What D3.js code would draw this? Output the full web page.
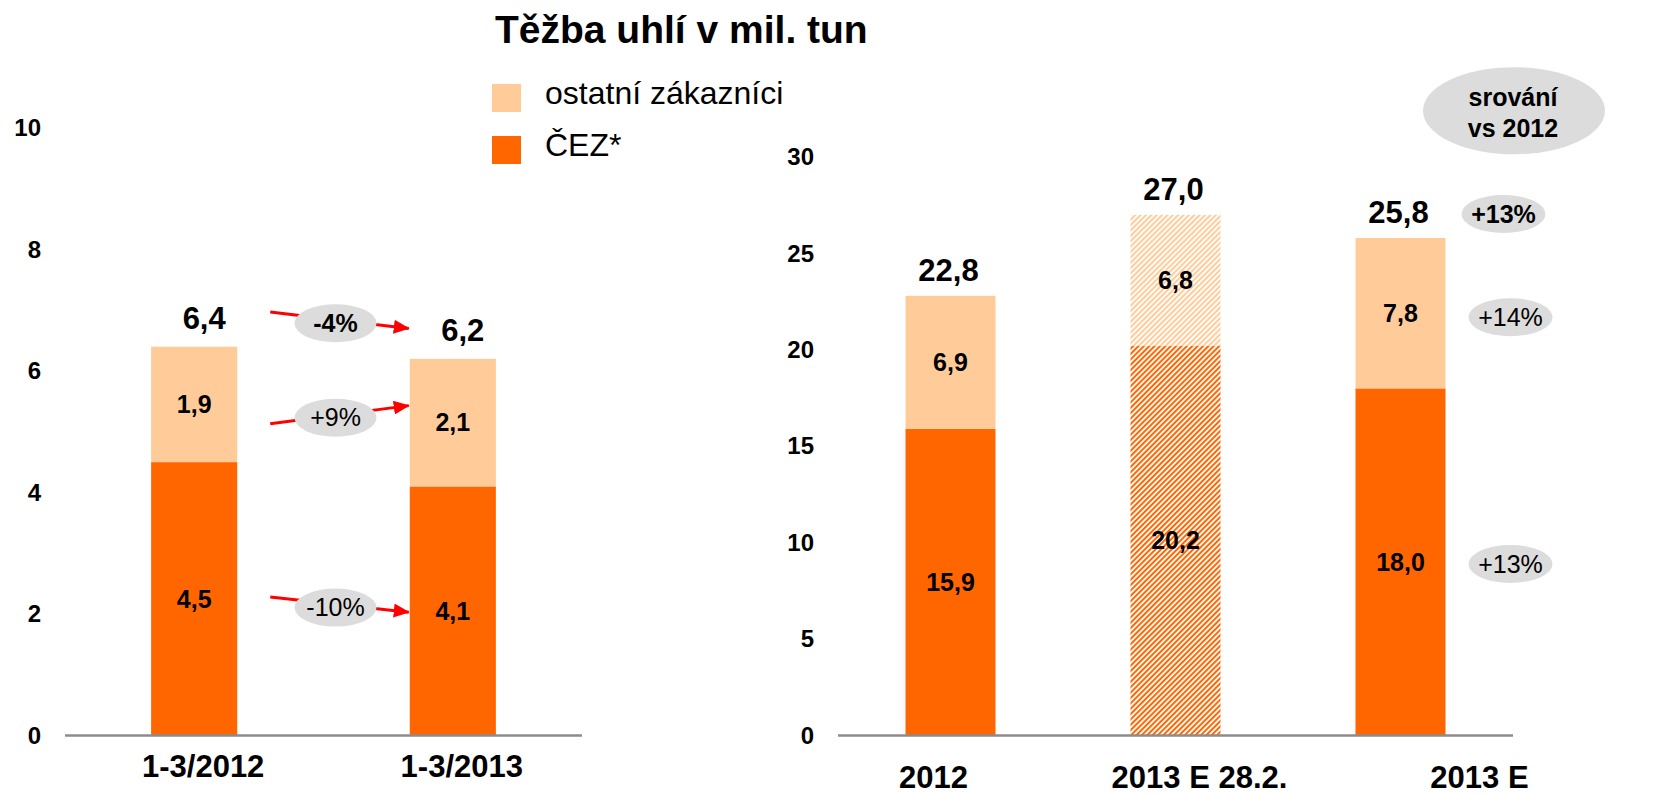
<!DOCTYPE html>
<html>
<head>
<meta charset="utf-8">
<script src="https://cdn.jsdelivr.net/npm/d3@7"></script>
<style>
  body { margin: 0; background: #fff; }
  text { font-family: "Liberation Sans", Arial, sans-serif; fill: #000; }
</style>
</head>
<body>
<div id="chart"></div>
<script>
// data (mil. tun) ///////////////////////////////////////
var leftCategories = ["1-3/2012", "1-3/2013"];
var leftCez = [4.5, 4.1];
var leftOther = [1.9, 2.1];
var leftTotals = [6.4, 6.2];
var leftTicks = [0, 2, 4, 6, 8, 10];
var leftChanges = ["-4%", "+9%", "-10%"];
var leftArrowFrom = [6.97, 5.13, 2.28];
var leftArrowTo = [6.70, 5.43, 2.03];

var rightCategories = ["2012", "2013 E 28.2.", "2013 E"];
var rightCez = [15.9, 20.2, 18.0];
var rightOther = [6.9, 6.8, 7.8];
var rightTotals = [22.8, 27.0, 25.8];
var rightHatched = [false, true, false];
var rightTicks = [0, 5, 10, 15, 20, 25, 30];
var rightChanges = ["+13%", "+14%", "+13%"];

var legendLabels = ["ostatní zákazníci", "ČEZ*"];

var colorCez = "#ff6600",
    colorOther = "#ffcc99",
    colorBubble = "#dcdcdc",
    colorAxis = "#8c8c8c";

var fmt = function(v) { return d3.format(".1f")(v).replace(".", ","); };

var svg = d3.select("#chart")
            .append("svg")
            .attr("width", 1663)
            .attr("height", 794);

var defs = svg.append("defs");

// hatch patterns for the estimate bar
function hatch(id, color) {
    var p = defs.append("pattern")
        .attr("id", id)
        .attr("patternUnits", "userSpaceOnUse")
        .attr("width", 3.8)
        .attr("height", 3.8)
        .attr("patternTransform", "rotate(45)");
    p.append("rect").attr("width", 3.8).attr("height", 3.8).attr("fill", "#fff");
    p.append("rect").attr("width", 2).attr("height", 3.8).attr("fill", color);
}
hatch("hatchCez", colorCez);
hatch("hatchOther", colorOther);

defs.append("marker")
    .attr("id", "arrow")
    .attr("markerUnits", "userSpaceOnUse")
    .attr("viewBox", "0 0 16 14")
    .attr("markerWidth", 16)
    .attr("markerHeight", 14)
    .attr("refX", 15)
    .attr("refY", 7)
    .attr("orient", "auto")
    .append("path")
    .attr("d", "M0,0 L16,7 L0,14 Z")
    .attr("fill", "#ff0000");

// Title + legend ///////////////////////////////////////
svg.append("text")
    .attr("x", 495)
    .attr("y", 43)
    .style("font-size", "39px")
    .style("font-weight", "bold")
    .text("Těžba uhlí v mil. tun");

var legend = svg.append("g").selectAll("g")
    .data(legendLabels)
    .enter().append("g")
    .attr("transform", function(d, i) { return "translate(492," + (84 + i * 52) + ")"; });

legend.append("rect")
    .attr("width", 29)
    .attr("height", 28)
    .attr("fill", function(d, i) { return i === 0 ? colorOther : colorCez; });

legend.append("text")
    .attr("x", 53)
    .attr("y", 20)
    .style("font-size", "32px")
    .text(function(d) { return d; });

// generic stacked bars
function stackedBars(g, cats, cez, other, totals, x, y, hatched, totalDx, totalDy) {
    var bw = x.bandwidth();
    cats.forEach(function(c, i) {
        var h = hatched && hatched[i];
        g.append("rect")
            .attr("x", x(c)).attr("width", bw)
            .attr("y", y(cez[i])).attr("height", y(0) - y(cez[i]))
            .attr("fill", h ? "url(#hatchCez)" : colorCez);
        g.append("rect")
            .attr("x", x(c)).attr("width", bw)
            .attr("y", y(cez[i] + other[i])).attr("height", y(cez[i]) - y(cez[i] + other[i]))
            .attr("fill", h ? "url(#hatchOther)" : colorOther);

        // segment values
        g.append("text")
            .attr("x", x(c) + bw / 2).attr("y", y(cez[i] / 2)).attr("dy", "0.35em")
            .attr("text-anchor", "middle")
            .style("font-size", "25px").style("font-weight", "bold")
            .text(fmt(cez[i]));
        g.append("text")
            .attr("x", x(c) + bw / 2).attr("y", y(cez[i] + other[i] / 2)).attr("dy", "0.35em")
            .attr("text-anchor", "middle")
            .style("font-size", "25px").style("font-weight", "bold")
            .text(fmt(other[i]));

        // totals
        g.append("text")
            .attr("x", x(c) + bw / 2 + totalDx).attr("y", y(totals[i]) - totalDy)
            .attr("text-anchor", "middle")
            .style("font-size", "31px").style("font-weight", "bold")
            .text(fmt(totals[i]));
    });
}

function yAxis(g, y, ticks, xPos) {
    g.attr("transform", "translate(" + xPos + ",0)")
        .call(d3.axisLeft(y).tickValues(ticks).tickSize(0).tickPadding(0).tickFormat(d3.format("d")));
    g.select(".domain").remove();
    g.selectAll("text")
        .style("font-family", "'Liberation Sans', Arial, sans-serif")
        .style("font-size", "24px")
        .style("font-weight", "bold")
        .attr("fill", "#000");
}

function baseline(g, x, y) {
    g.append("line")
        .attr("x1", x.range()[0]).attr("x2", x.range()[1])
        .attr("y1", y(0)).attr("y2", y(0))
        .attr("stroke", colorAxis)
        .attr("stroke-width", 2.5);
}

function bubble(g, cx, cy, rx, ry, label, bold) {
    g.append("ellipse")
        .attr("cx", cx).attr("cy", cy).attr("rx", rx).attr("ry", ry)
        .attr("fill", colorBubble);
    g.append("text")
        .attr("x", cx).attr("y", cy).attr("dy", "0.35em")
        .attr("text-anchor", "middle")
        .style("font-size", "25px")
        .style("font-weight", bold ? "bold" : "normal")
        .text(label);
}

// Left chart /////////////////////////////////////////
var xL = d3.scaleBand().domain(leftCategories).range([65, 582])
           .paddingInner(0.667).paddingOuter(0.333);
var yL = d3.scaleLinear().domain([0, 10]).range([735.5, 128]);

var left = svg.append("g");
stackedBars(left, leftCategories, leftCez, leftOther, leftTotals, xL, yL, null, 10, 18);
baseline(left, xL, yL);
yAxis(left.append("g"), yL, leftTicks, 41);

left.selectAll(".xlab")
    .data(leftCategories)
    .enter().append("text")
    .attr("class", "xlab")
    .attr("x", function(d) { return xL(d) + xL.bandwidth() / 2 + 9; })
    .attr("y", 777)
    .attr("text-anchor", "middle")
    .style("font-size", "31px")
    .style("font-weight", "bold")
    .text(function(d) { return d; });

// change arrows between the two quarters
var ax0 = xL(leftCategories[0]) + xL.bandwidth() + 33,
    ax1 = xL(leftCategories[1]) - 1;
leftChanges.forEach(function(lbl, i) {
    left.append("line")
        .attr("x1", ax0).attr("y1", yL(leftArrowFrom[i]))
        .attr("x2", ax1).attr("y2", yL(leftArrowTo[i]))
        .attr("stroke", "#ff0000")
        .attr("stroke-width", 3)
        .attr("marker-end", "url(#arrow)");
    var cy = yL((leftArrowFrom[i] + leftArrowTo[i]) / 2);
    bubble(left, (ax0 + ax1) / 2 - 4, cy + 3, 41, 19, lbl, i === 0);
});

// Right chart ////////////////////////////////////////
var xR = d3.scaleBand().domain(rightCategories).range([838, 1513])
           .paddingInner(0.6).paddingOuter(0.3);
var yR = d3.scaleLinear().domain([0, 30]).range([735.5, 157]);

var right = svg.append("g");
stackedBars(right, rightCategories, rightCez, rightOther, rightTotals, xR, yR, rightHatched, -2, 15);
baseline(right, xR, yR);
yAxis(right.append("g"), yR, rightTicks, 814);

var rightLabelShift = [-17, 24, 79];
right.selectAll(".xlab")
    .data(rightCategories)
    .enter().append("text")
    .attr("class", "xlab")
    .attr("x", function(d, i) { return xR(d) + xR.bandwidth() / 2 + rightLabelShift[i]; })
    .attr("y", 788)
    .attr("text-anchor", "middle")
    .style("font-size", "31px")
    .style("font-weight", "bold")
    .text(function(d) { return d; });

// comparison vs 2012, next to the last bar
var last = rightCategories.length - 1,
    bx = xR(rightCategories[last]) + xR.bandwidth() + 62;
var bubbleY = [
    yR(rightTotals[last]) - 26,
    yR(rightCez[last] + rightOther[last] / 2),
    yR(rightCez[last] / 2)
];
rightChanges.forEach(function(lbl, i) {
    bubble(right, bx + (i === 0 ? -4 : 3), bubbleY[i] + (i === 1 ? 4 : 2), 42, 19, lbl, i === 0);
});

var cmp = right.append("g");
cmp.append("ellipse")
    .attr("cx", 1514).attr("cy", yR(32.4))
    .attr("rx", 91).attr("ry", 43.5)
    .attr("fill", colorBubble);
cmp.selectAll("text")
    .data(["srování", "vs 2012"])
    .enter().append("text")
    .attr("x", 1513)
    .attr("y", function(d, i) { return 106 + i * 31; })
    .attr("text-anchor", "middle")
    .style("font-size", "25px")
    .style("font-weight", "bold")
    .text(function(d) { return d; });
</script>
</body>
</html>
